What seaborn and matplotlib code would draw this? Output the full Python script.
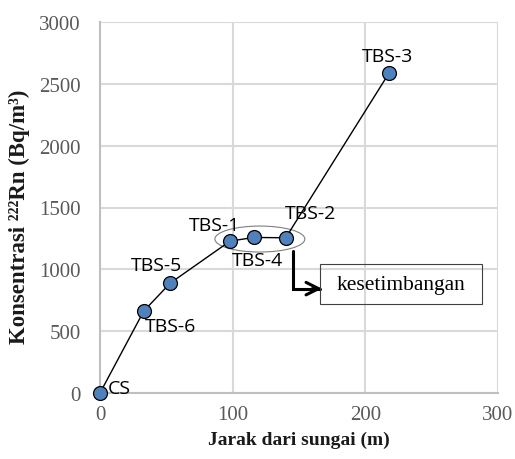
import matplotlib.pyplot as plt
import seaborn as sns
import pandas as pd
from matplotlib.patches import Ellipse, Rectangle

# Data
sites = ['CS', 'TBS-6', 'TBS-5', 'TBS-1', 'TBS-4', 'TBS-2', 'TBS-3']
jarak = [0, 33, 53, 98, 116, 140, 218]
konsentrasi = [0, 663, 889, 1228, 1258, 1255, 2589]
# label offsets in pixels (dx, dy)
label_off = [(8, 5), (27, -15), (-14, 18), (-16, 16), (4, -23), (25, 25), (-2, 17)]

df = pd.DataFrame({'site': sites, 'x': jarak, 'y': konsentrasi})

sns.set_style('white')
plt.rcParams['font.family'] = ['Liberation Serif', 'DejaVu Serif']

fig = plt.figure(figsize=(5.15, 4.6), dpi=100)
ax = fig.add_axes([100/515, 1 - 394/460, 398/515, 371/460])

sns.lineplot(data=df, x='x', y='y', sort=False, estimator=None, ax=ax,
             color='black', linewidth=1, marker='o', markersize=10,
             markerfacecolor='#4f81bd', markeredgecolor='black',
             markeredgewidth=0.9, clip_on=False, zorder=3)

ax.set_xlim(0, 300)
ax.set_ylim(0, 3000)
ax.set_xticks([0, 100, 200, 300])
ax.set_yticks(range(0, 3001, 500))
ax.grid(True, color='#d9d9d9', linewidth=1.5)
ax.set_axisbelow(True)
for s in ['top', 'right']:
    ax.spines[s].set_visible(False)
for s in ['left', 'bottom']:
    ax.spines[s].set_color('#bfbfbf')
    ax.spines[s].set_linewidth(1.5)
ax.tick_params(axis='both', direction='out', length=5, width=1.5,
               color='#bfbfbf', labelcolor='#595959', labelsize=15)
ax.tick_params(axis='y', pad=9)
ax.tick_params(axis='x', pad=4)

ax.set_xlabel('Jarak dari sungai (m)', fontsize=14, fontweight='bold',
              color='#1a1a1a')
ax.set_ylabel('Konsentrasi ²²²Rn (Bq/m³)', fontsize=16.5,
              fontweight='bold', color='#1a1a1a')
ax.xaxis.set_label_coords(0.5, -38/371)
ax.yaxis.set_label_coords(-70/398, (394 - 217) / 371)

for name, xv, yv, (dx, dy) in zip(sites, jarak, konsentrasi, label_off):
    ha = 'left' if name == 'CS' else 'center'
    ax.annotate(name, (xv, yv), xytext=(dx, dy), textcoords='offset pixels',
                ha=ha, va='center', fontsize=14, family='Open Sans',
                color='black', zorder=4)

# equilibrium ellipse
ax.add_patch(Ellipse((120.5, 1245), 67.8, 210, fill=False,
                     edgecolor='#7f7f7f', linewidth=0.8, zorder=2))

# elbow arrow
ax.plot([145.3, 145.3, 166], [1148, 844, 844], color='black', linewidth=2.2,
        solid_joinstyle='miter', zorder=4)
ax.annotate('', xy=(169.4, 844), xytext=(158, 844),
            arrowprops=dict(arrowstyle='->,head_length=0.9,head_width=0.45',
                            color='black', linewidth=2.2), zorder=4)

# text box (transparent, gridline shows through)
ax.add_patch(Rectangle((165.7, 720), 122, 323, fill=False,
                       edgecolor='#404040', linewidth=0.8, zorder=4))
ax.text(226.7, 875, 'kesetimbangan', ha='center', va='center', fontsize=15.5,
        color='black', zorder=5)

fig.savefig('out.png', dpi=100)
